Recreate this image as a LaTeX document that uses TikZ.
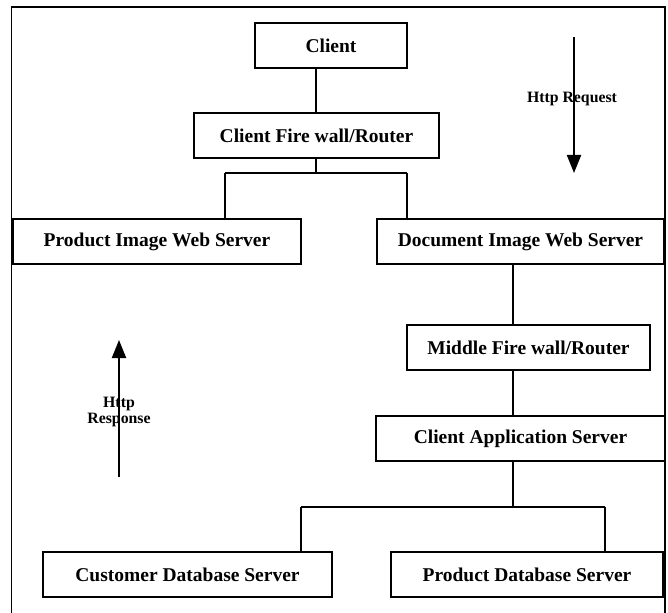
\documentclass[tikz,border=0pt]{standalone}
\usepackage{fontspec}
\setmainfont{Liberation Serif}
\usetikzlibrary{arrows.meta}
\tikzset{
  box/.style={draw, line width=1.5pt, minimum height=45pt, inner sep=0pt,
    font=\fontsize{19.5}{22}\selectfont\bfseries},
  conn/.style={line width=1.5pt},
  flow/.style={line width=2pt, -{Triangle[length=18pt,width=14pt]}},
  lbl/.style={font=\fontsize{15.8}{18}\selectfont\bfseries, align=center, inner sep=0pt}
}
\begin{document}
\begin{tikzpicture}[x=1pt,y=-1pt]
\useasboundingbox (0,0) rectangle (668,612);
% frame
\draw[line width=1.5pt] (11.5,620) -- (11.5,7) -- (665,7) -- (665,620);

\node[box, minimum width=152pt] (client) at (331,45.5) {Client};
\node[box, minimum width=245pt] (cfw) at (316.5,135.5) {Client Fire wall/Router};
\node[box, minimum width=288pt] (piws) at (157,241.5) {Product Image Web Server};
\node[box, minimum width=287pt] (diws) at (520.5,241.5) {Document Image Web Server};
\node[box, minimum width=243pt] (mfw) at (528.5,347.5) {Middle Fire wall/Router};
\node[box, minimum width=289pt] (cas) at (520.5,438.5) {Client Application Server};
\node[box, minimum width=289pt] (cdb) at (187.5,574.5) {Customer Database Server};
\node[box, minimum width=272pt] (pdb) at (527,574.5) {Product Database Server};

% connectors
\coordinate (b1) at (316,173);
\coordinate (b1l) at (225,173);
\coordinate (b1r) at (407,173);
\coordinate (b2) at (513,507);
\coordinate (b2l) at (301,507);
\coordinate (b2r) at (605,507);

\draw[conn] (client.south -| b1) -- (cfw.north -| b1);
\draw[conn] (cfw.south -| b1) -- (b1);
\draw[conn] (b1l) -- (b1r);
\draw[conn] (b1l) -- (piws.north -| b1l);
\draw[conn] (b1r) -- (diws.north -| b1r);
\draw[conn] (diws.south -| b2) -- (mfw.north -| b2);
\draw[conn] (mfw.south -| b2) -- (cas.north -| b2);
\draw[conn] (cas.south -| b2) -- (b2);
\draw[conn] (b2l) -- (b2r);
\draw[conn] (b2l) -- (cdb.north -| b2l);
\draw[conn] (b2r) -- (pdb.north -| b2r);

% http arrows
\coordinate (rqs) at (574,37);
\coordinate (rqe) at (574,173);
\draw[flow] (rqs) -- (rqe);
\node[lbl] (rqlbl) at (572,99) {Http Request};

\coordinate (rss) at (119,477);
\coordinate (rse) at (119,340);
\draw[flow] (rss) -- (rse);
\node[lbl] (rslbl) at (119,412) {Http\\[-2pt]Response};
\end{tikzpicture}
\end{document}
